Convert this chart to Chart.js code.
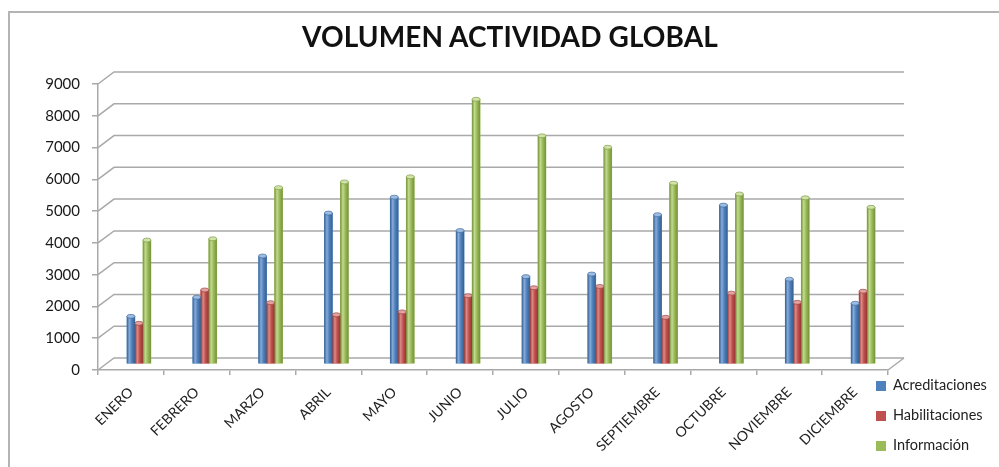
<!DOCTYPE html>
<html lang="es">
<head>
    <meta charset="UTF-8">
    <title>Volumen actividad global</title>
    <script src="https://cdn.jsdelivr.net/npm/chart.js@4.4.1/dist/chart.umd.min.js"></script>
    <style>
        html, body {
            margin: 0;
            padding: 0;
            background: #fff;
            overflow: hidden;
        }
        .page {
            position: relative;
            width: 999px;
            height: 467px;
            font-family: Lato, "Open Sans", sans-serif;
        }
        .frame {
            position: absolute;
            left: 8px;
            top: 11px;
            width: 1100px;
            height: 600px;
            border-left: 2px solid #b4b4b4;
            border-top: 2px solid #b4b4b4;
        }
        .chart-box {
            position: absolute;
            left: 0;
            top: 0;
            width: 999px;
            height: 467px;
        }
        h1 {
            position: absolute;
            left: 0;
            top: 19px;
            width: 1020px;
            margin: 0;
            text-align: center;
            font-size: 28px;
            font-weight: 700;
            color: #111;
            letter-spacing: 0.1px;
        }
        .legend {
            position: absolute;
            left: 876px;
            top: 374px;
            font-size: 14.5px;
            color: #222;
            white-space: nowrap;
        }
        .legend div {
            height: 29.8px;
            line-height: 22px;
        }
        .legend i {
            display: inline-block;
            width: 10px;
            height: 10px;
            margin-right: 7px;
            vertical-align: -1px;
        }
    </style>
</head>
<body>
    <div class="page">
        <div class="frame"></div>
        <div class="chart-box">
            <canvas id="actividadChart"></canvas>
        </div>
        <h1>VOLUMEN ACTIVIDAD GLOBAL</h1>
        <div class="legend" id="legend"></div>
    </div>

    <script>
        // Datos mensuales
        const meses = ['ENERO', 'FEBRERO', 'MARZO', 'ABRIL', 'MAYO', 'JUNIO', 'JULIO',
            'AGOSTO', 'SEPTIEMBRE', 'OCTUBRE', 'NOVIEMBRE', 'DICIEMBRE'];
        const acreditaciones = [1500, 2100, 3400, 4750, 5250, 4200, 2750, 2830, 4700, 5000, 2670, 1910];
        const habilitaciones = [1280, 2330, 1930, 1550, 1640, 2150, 2400, 2440, 1470, 2230, 1940, 2290];
        const informacion = [3900, 3940, 5550, 5730, 5890, 8330, 7180, 6820, 5690, 5350, 5230, 4930];
        const nombresSeries = ['Acreditaciones', 'Habilitaciones', 'Información'];
        const ejeMin = 0;
        const ejeMax = 9000;
        const ejePaso = 1000;

        // Colores de cada serie (base, sombra, brillo, tapa)
        const colores = [
            { base: '#4F81BD', dark: '#36608f', light: '#86abdb', cap: '#9dbce4' },
            { base: '#C0504D', dark: '#913633', light: '#dc8a87', cap: '#e3a19f' },
            { base: '#9BBB59', dark: '#74913a', light: '#c2da8f', cap: '#d0e3a8' }
        ];

        // Profundidad de la perspectiva
        const DX = 16;
        const DY = 12;
        const gridColor = '#a9a9a9';

        // Pared del fondo, suelo y desplazamiento de las columnas
        const paredPlugin = {
            id: 'pared',
            beforeDatasetsDraw(chart) {
                const { ctx, chartArea: a, scales: { y } } = chart;
                ctx.save();
                ctx.strokeStyle = gridColor;
                ctx.lineWidth = 1.5;
                y.ticks.forEach(t => {
                    const py = y.getPixelForValue(t.value);
                    ctx.beginPath();
                    ctx.moveTo(a.left, py);
                    ctx.lineTo(a.left + DX, py - DY);
                    ctx.lineTo(a.right + DX, py - DY);
                    ctx.stroke();
                });
                ctx.beginPath();
                ctx.moveTo(a.right, a.bottom);
                ctx.lineTo(a.right + DX, a.bottom - DY);
                ctx.stroke();
                ctx.restore();

                ctx.save();
                ctx.translate(DX / 2, -DY / 2);
            },
            afterDatasetsDraw(chart) {
                const ctx = chart.ctx;
                chart.getSortedVisibleDatasetMetas().forEach(meta => {
                    const c = colores[meta.index];
                    meta.data.forEach(bar => {
                        const { x, y, base, width } = bar.getProps(['x', 'y', 'base', 'width'], true);
                        const l = x - width / 2;
                        // cuerpo cilíndrico
                        const g = ctx.createLinearGradient(l, 0, l + width, 0);
                        g.addColorStop(0, c.dark);
                        g.addColorStop(0.3, c.light);
                        g.addColorStop(0.6, c.base);
                        g.addColorStop(1, c.dark);
                        ctx.fillStyle = g;
                        ctx.fillRect(l, y, width, base - y);
                        // tapa superior
                        ctx.beginPath();
                        ctx.ellipse(x, y, width / 2, 2, 0, 0, Math.PI * 2);
                        ctx.fillStyle = c.cap;
                        ctx.fill();
                        ctx.strokeStyle = c.dark;
                        ctx.lineWidth = 0.6;
                        ctx.stroke();
                    });
                });
                ctx.restore();
            }
        };

        const ctx = document.getElementById('actividadChart').getContext('2d');
        const series = [acreditaciones, habilitaciones, informacion];

        new Chart(ctx, {
            type: 'bar',
            data: {
                labels: meses,
                datasets: series.map((valores, i) => ({
                    label: nombresSeries[i],
                    data: valores,
                    backgroundColor: colores[i].base,
                    borderWidth: 0,
                    barThickness: 8
                }))
            },
            options: {
                responsive: true,
                maintainAspectRatio: false,
                animation: false,
                layout: {
                    padding: { left: 10, top: 84, right: 111, bottom: 0 }
                },
                plugins: {
                    legend: { display: false },
                    title: { display: false },
                    tooltip: { enabled: false }
                },
                scales: {
                    x: {
                        grid: {
                            offset: true,
                            drawOnChartArea: false,
                            color: gridColor,
                            lineWidth: 1.5,
                            tickLength: 5
                        },
                        border: { color: gridColor, width: 1.5 },
                        ticks: {
                            minRotation: 45,
                            maxRotation: 45,
                            autoSkip: false,
                            padding: 9,
                            color: '#222',
                            font: { family: 'Lato', size: 14 }
                        },
                        afterFit(scale) { scale.height = 97; }
                    },
                    y: {
                        min: ejeMin,
                        max: ejeMax,
                        grid: {
                            drawOnChartArea: false,
                            color: gridColor,
                            lineWidth: 1.5,
                            tickLength: 6
                        },
                        border: { color: gridColor, width: 1.5 },
                        ticks: {
                            stepSize: ejePaso,
                            padding: 12,
                            color: '#1a1a1a',
                            font: { family: 'Lato', size: 15 },
                            callback: v => String(v)
                        },
                        afterFit(scale) { scale.width = 88; }
                    }
                }
            },
            plugins: [paredPlugin]
        });

        // Leyenda
        const legend = document.getElementById('legend');
        nombresSeries.forEach((nombre, i) => {
            const row = document.createElement('div');
            const box = document.createElement('i');
            box.style.background = colores[i].base;
            row.appendChild(box);
            row.appendChild(document.createTextNode(nombre));
            legend.appendChild(row);
        });
    </script>
</body>
</html>
